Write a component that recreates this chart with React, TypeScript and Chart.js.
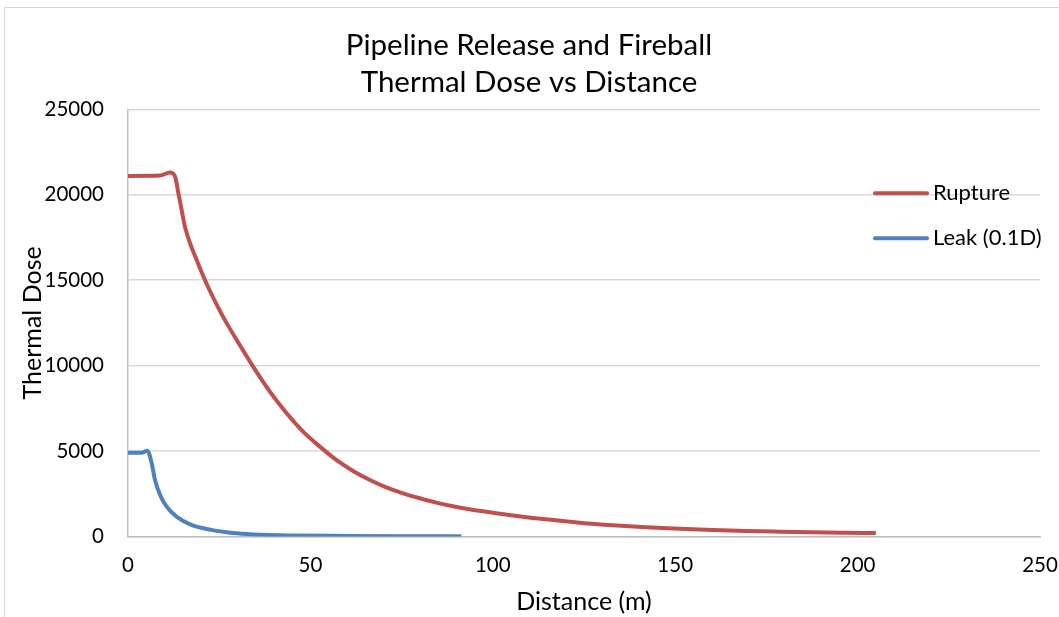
import React, { useEffect, useRef } from "react";
import { Chart, registerables } from "chart.js";

Chart.register(...registerables);

const titleLines = ["Pipeline Release and Fireball", "Thermal Dose vs Distance"];
const xAxisTitle = "Distance (m)";
const yAxisTitle = "Thermal Dose";
const seriesNames = ["Rupture", "Leak (0.1D)"];
const seriesColors = ["#C0504D", "#4F81BD"];

const ruptureX = [0, 8.8, 11.5, 12.9, 13.8, 14.7, 15.6, 17, 18.8, 20.6, 22.5, 25.2, 27, 29.8, 34.3, 38.9, 43.5, 48, 52.6, 57.1, 61.7, 66.3, 70.8, 75.4, 80, 84.5, 89.1, 93.6, 98.2, 105.5, 114.6, 123.8, 132.9, 142, 151.1, 160.3, 169.4, 178.5, 187.6, 196.7, 205];
const ruptureY = [21100, 21120, 21300, 21065, 20094, 19116, 18138, 17166, 16189, 15250, 14350, 13200, 12500, 11500, 9941, 8478, 7213, 6136, 5258, 4479, 3835, 3308, 2880, 2529, 2236, 1979, 1770, 1600, 1452, 1230, 1007, 808, 656, 539, 452, 380, 322, 281, 246, 222, 205];

const leakX = [0, 3.7, 5.3, 6.5, 7.4, 8.8, 10.6, 13.3, 17, 22.5, 28.8, 34.3, 45, 60, 75, 91.4];
const leakY = [4900, 4900, 5020, 4285, 3300, 2430, 1745, 1160, 714, 400, 200, 120, 60, 35, 20, 12];

const xTicks = [0, 50, 100, 150, 200, 250];
const yTicks = [0, 5000, 10000, 15000, 20000, 25000];

const FONT = "Lato, 'Open Sans', sans-serif";

function toPoints(xs: number[], ys: number[]) {
  return xs.map((x, i) => ({ x, y: ys[i] }));
}

const legendPlugin = {
  id: "insideLegend",
  afterDraw(chart: any) {
    const ctx = chart.ctx;
    const area = chart.chartArea;
    const x0 = area.right - 165;
    const rows = [area.top + 84, area.top + 129];
    ctx.save();
    chart.data.datasets.forEach((ds: any, i: number) => {
      const y = rows[i];
      ctx.strokeStyle = ds.borderColor;
      ctx.lineWidth = 4;
      ctx.lineCap = "round";
      ctx.beginPath();
      ctx.moveTo(x0, y);
      ctx.lineTo(x0 + 52, y);
      ctx.stroke();
      ctx.fillStyle = "#000";
      ctx.font = `22px ${FONT}`;
      ctx.textBaseline = "middle";
      ctx.textAlign = "left";
      ctx.fillText(ds.label, x0 + 58, y);
    });
    ctx.restore();
  },
};

export default function App() {
  const ref = useRef<HTMLCanvasElement | null>(null);
  useEffect(() => {
    if (!ref.current) return;
    const chart = new Chart(ref.current, {
      type: "scatter",
      data: {
        datasets: [
          {
            label: seriesNames[0],
            data: toPoints(ruptureX, ruptureY),
            borderColor: seriesColors[0],
            backgroundColor: seriesColors[0],
            borderWidth: 4,
            showLine: true,
            pointRadius: 0,
            cubicInterpolationMode: "monotone",
          },
          {
            label: seriesNames[1],
            data: toPoints(leakX, leakY),
            borderColor: seriesColors[1],
            backgroundColor: seriesColors[1],
            borderWidth: 4,
            showLine: true,
            pointRadius: 0,
            cubicInterpolationMode: "monotone",
          },
        ],
      },
      options: {
        responsive: false,
        animation: false,
        layout: { padding: { left: 18, right: 19, top: 0, bottom: 0 } },
        plugins: {
          legend: { display: false },
          tooltip: { enabled: false },
          title: {
            display: true,
            text: titleLines,
            color: "#000",
            font: { family: FONT, size: 29.5, weight: "normal", lineHeight: 1.25 },
            padding: { top: 27.5, bottom: 8 },
          },
        },
        scales: {
          x: {
            type: "linear",
            min: 0,
            max: 250,
            afterBuildTicks: (s: any) => {
              s.ticks = xTicks.map((v) => ({ value: v }));
            },
            afterFit: (s: any) => {
              s.height = 80.5;
              s.paddingLeft = 0;
              s.paddingRight = 0;
            },
            grid: { display: false, drawTicks: false },
            border: { display: true, color: "#bfbfbf", width: 1.5 },
            ticks: { color: "#000", padding: 17, font: { family: FONT, size: 20.5 }, maxRotation: 0 },
            title: {
              display: true,
              text: xAxisTitle,
              color: "#000",
              font: { family: FONT, size: 25 },
              padding: { top: 0, bottom: 0 },
            },
          },
          y: {
            type: "linear",
            min: 0,
            max: 25000,
            afterBuildTicks: (s: any) => {
              s.ticks = yTicks.map((v) => ({ value: v }));
            },
            afterFit: (s: any) => {
              s.width = 110;
            },
            grid: { color: "#d9d9d9", lineWidth: 1.5, drawTicks: false },
            border: { display: true, color: "#bfbfbf", width: 1.5 },
            ticks: {
              color: "#000",
              padding: 24,
              font: { family: FONT, size: 20.5 },
              callback: (v: any) => String(v),
            },
            title: {
              display: true,
              text: yAxisTitle,
              color: "#000",
              font: { family: FONT, size: 25 },
              padding: { top: 0, bottom: 0 },
            },
          },
        },
      },
      plugins: [legendPlugin],
    } as any);
    return () => chart.destroy();
  }, []);

  return (
    <div style={{ position: "fixed", left: 0, top: 0, width: 1059, height: 617, background: "#fff" }}>
      <div
        style={{
          position: "absolute",
          left: 4,
          top: 7,
          width: 1070,
          height: 620,
          border: "1.5px solid #d9d9d9",
          boxSizing: "border-box",
        }}
      />
      <canvas ref={ref} width={1059} height={617} style={{ position: "absolute", left: 0, top: 0 }} />
    </div>
  );
}
